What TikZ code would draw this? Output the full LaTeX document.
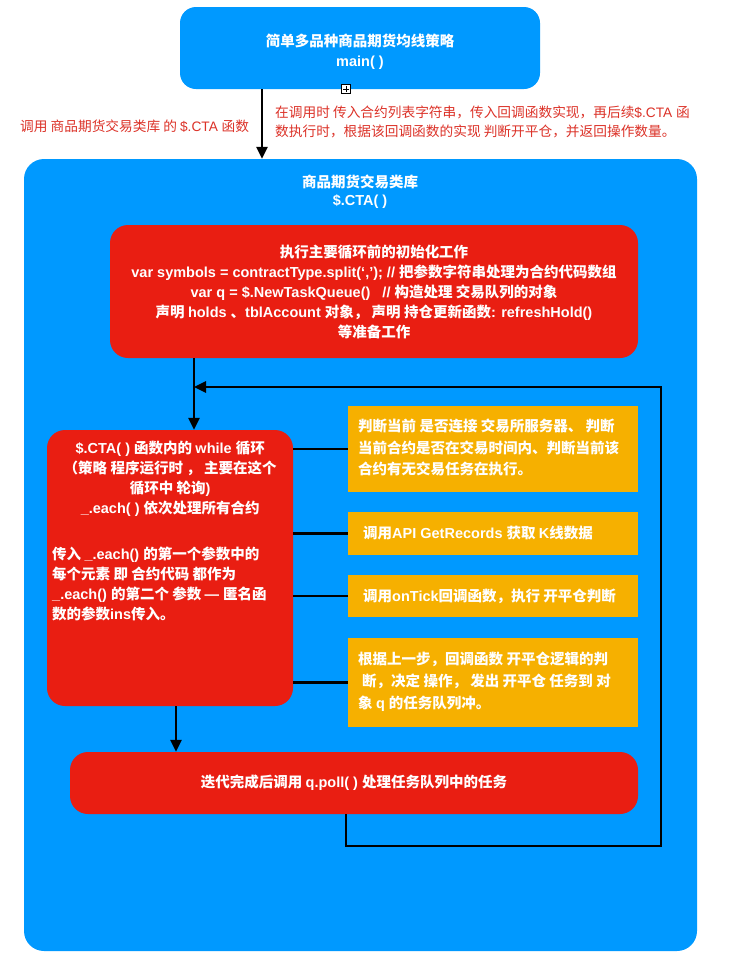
\documentclass[tikz,border=0pt]{standalone}
\usepackage{fontspec}
\setmainfont{Liberation Sans}
\newfontfamily\cjkfam{Noto Sans CJK SC}
\newfontfamily\latfam{Liberation Sans}
\usetikzlibrary{arrows.meta}
\XeTeXinterchartokenstate=1
\newXeTeXintercharclass\cjkcls
\newcount\cjkc
\def\setcjkrange#1#2{\cjkc=#1 \loop\XeTeXcharclass\cjkc=\cjkcls\ifnum\cjkc<#2 \advance\cjkc by 1 \repeat}
\setcjkrange{"4E00}{"9FFF}
\setcjkrange{"3000}{"303F}
\setcjkrange{"FF00}{"FFEF}
\XeTeXinterchartoks 0 \cjkcls={\cjkfam}
\XeTeXinterchartoks 4095 \cjkcls={\cjkfam}
\XeTeXinterchartoks \cjkcls 0={\latfam}
\XeTeXinterchartoks 4095 0={\latfam}
\definecolor{cblue}{HTML}{0099FF}
\definecolor{cred}{HTML}{E91E12}
\definecolor{cyel}{HTML}{F6B000}
\definecolor{clabel}{HTML}{DC3228}
\tikzset{
  bluebox/.style={fill=cblue, rounded corners=16pt, inner sep=0pt},
  redbox/.style={fill=cred, rounded corners=18pt, inner sep=0pt},
  ybox/.style={fill=cyel, inner sep=0pt},
  wtext/.style={text=white, font=\bfseries\fontsize{14.5}{20}\selectfont, inner sep=0pt},
  rtext/.style={text=clabel, font=\fontsize{13.7}{19}\selectfont, inner sep=0pt},
  link/.style={line width=2.7pt},
  arr/.style={line width=2.7pt, -{Triangle[length=12pt,width=11pt]}}
}
\begin{document}
\begin{tikzpicture}[x=1pt,y=-1pt]
\useasboundingbox (0,0) rectangle (736,962);
\fill[white] (0,0) rectangle (736,962);
% top box
\node[bluebox, minimum width=360pt, minimum height=82pt] (main) at (360,48) {};
\node[wtext, align=center] (maint) at (360,51.5) {简单多品种商品期货均线策略\\main( )};
\node[draw=black, fill=white, line width=0.6pt, minimum size=8.5pt, inner sep=0pt] (expand) at (346,89) {};
\draw[line width=0.6pt] ([xshift=-3pt]expand.center) -- ([xshift=3pt]expand.center);
\draw[line width=0.6pt] ([yshift=-3pt]expand.center) -- ([yshift=3pt]expand.center);
% labels
\node[rtext, anchor=west] (lbl1) at (20,126) {调用 商品期货交易类库 的 \$.CTA 函数};
\node[rtext, anchor=west, align=left] (lbl2) at (275,121.5) {在调用时 传入合约列表字符串，传入回调函数实现，再后续\$.CTA 函\\数执行时，根据该回调函数的实现 判断开平仓，并返回操作数量。};
% big library box
\node[bluebox, rounded corners=20pt, minimum width=673pt, minimum height=792pt] (lib) at (360.5,555) {};
\node[wtext, align=center, font=\bfseries\fontsize{14.5}{18}\selectfont] (libt) at (360,191.5) {商品期货交易类库\\\$.CTA( )};
\draw[arr] ([xshift=-98pt]main.south) -- ([xshift=-98pt]main.south |- lib.north);
% init box
\node[redbox, wtext, align=center, minimum width=528pt, minimum height=133pt] (init) at (374,291.5)
 {执行主要循环前的初始化工作\\var symbols = contractType.split(‘,’); // 把参数字符串处理为合约代码数组\\var q = \$.NewTaskQueue()\ \ \ // 构造处理 交易队列的对象\\声明 holds 、tblAccount 对象， 声明 持仓更新函数: refreshHold()\\等准备工作};
% loop box
\node[redbox, minimum width=246pt, minimum height=276pt] (loop) at (170,568) {};
\node[wtext, anchor=north west] (loopt) at (52,441) {\begin{minipage}[t]{236pt}\centering
\$.CTA( ) 函数内的 while 循环\\（策略 程序运行时 ， 主要在这个\\循环中 轮询)\\\_.each( ) 依次处理所有合约\par\vspace{26pt}\raggedright
传入 \_.each() 的第一个参数中的\\每个元素 即 合约代码 都作为\\\_.each() 的第二个 参数 — 匿名函\\数的参数ins传入。\end{minipage}};
% poll box
\node[redbox, wtext, minimum width=568pt, minimum height=62pt] (poll) at (354,783) {迭代完成后调用 q.poll( ) 处理任务队列中的任务};
% yellow boxes
\node[ybox, minimum width=290pt, minimum height=86pt] (y1) at (493,449) {};
\node[wtext, anchor=west, align=left, font=\bfseries\fontsize{14.5}{21.5}\selectfont] (y1t) at (358,447.5) {判断当前 是否连接 交易所服务器、 判断\\当前合约是否在交易时间内、判断当前该\\合约有无交易任务在执行。};
\node[ybox, minimum width=290pt, minimum height=43pt] (y2) at (493,533.5) {};
\node[wtext, anchor=west] (y2t) at (363,533) {调用API GetRecords 获取 K线数据};
\node[ybox, minimum width=290pt, minimum height=42pt] (y3) at (493,596) {};
\node[wtext, anchor=west] (y3t) at (363,596) {调用onTick回调函数，执行 开平仓判断};
\node[ybox, minimum width=290pt, minimum height=89pt] (y4) at (493,682.5) {};
\node[wtext, anchor=west, align=left, font=\bfseries\fontsize{14.5}{22}\selectfont] (y4t) at (358,682) {根据上一步，回调函数 开平仓逻辑的判\\\hspace{4pt}断，决定 操作， 发出 开平仓 任务到 对\\象 q 的任务队列冲。};
% connectors
\draw[link] (loop.east |- y1) -- (y1.west);
\draw[link] (loop.east |- y2) -- (y2.west);
\draw[link] (loop.east |- y3) -- (y3.west);
\draw[link] (loop.east |- y4) -- (y4.west);
\coordinate (j) at (194,387);
\coordinate (rb) at (661,846);
\coordinate (rt) at (661,387);
\draw[arr] (init.south -| j) -- (loop.north -| j);
\draw[arr] ([xshift=6pt]loop.south) -- ([xshift=6pt]loop.south |- poll.north);
\draw[arr] ([xshift=-8pt]poll.south) |- (rb) -- (rt) -- (j);
\end{tikzpicture}
\end{document}
